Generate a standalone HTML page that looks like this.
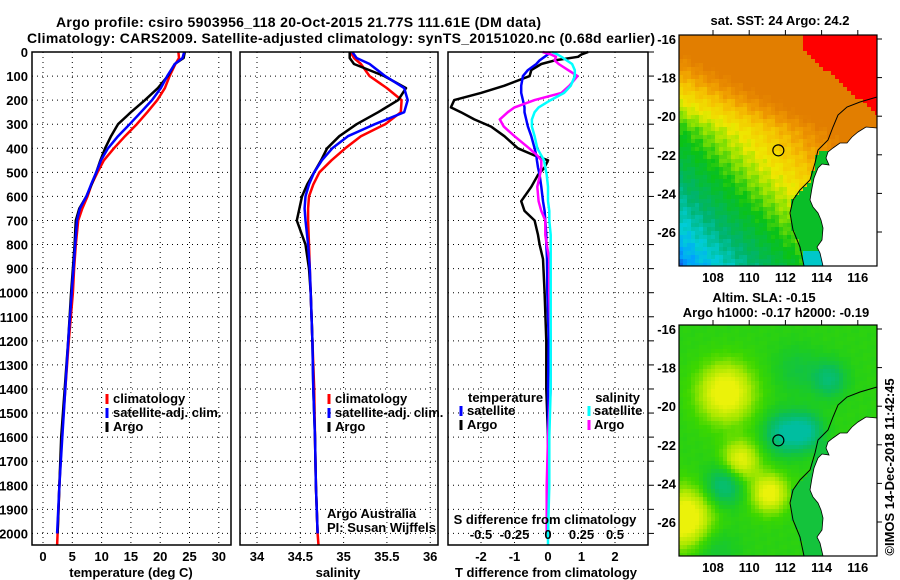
<!DOCTYPE html>
<html><head><meta charset="utf-8">
<style>
html,body{margin:0;padding:0;background:#fff;}
svg{display:block;font-family:"Liberation Sans",sans-serif;}
.b{font-weight:bold;font-size:13px;}
</style></head>
<body>
<svg id="fig" width="900" height="580" viewBox="0 0 900 580" xmlns="http://www.w3.org/2000/svg">
<text x="56" y="27" font-size="14" font-weight="bold" textLength="485">Argo profile: csiro 5903956_118 20-Oct-2015 21.77S 111.61E (DM data)</text>
<text x="27" y="43" font-size="14" font-weight="bold" textLength="628">Climatology: CARS2009. Satellite-adjusted climatology: synTS_20151020.nc (0.68d earlier)</text>
</svg>
<script>
// ---------- data ----------
const depthTS = [0,25,50,100,150,200,250,300,350,400,450,500,550,600,650,700,800,900,1000,1200,1400,1600,1800,2000,2050];
const tempClim = [23.1,23.2,22.6,21.6,20.8,19.5,17.8,16.0,14.0,12.1,10.4,9.3,8.3,7.6,6.7,6.0,5.6,5.3,5.1,4.4,3.8,3.2,2.8,2.5,2.4];
const tempSat  = [24.1,23.8,22.5,21.2,20.1,18.6,16.7,14.8,12.8,11.1,9.9,9.1,8.2,7.4,6.3,5.8,5.5,5.2,4.9,4.3,3.8,3.3,2.8,2.4];
const tempArgo = [24.2,24.0,22.5,21.3,19.6,17.4,15.0,12.8,11.6,10.6,9.8,9.1,8.3,7.4,6.2,5.6,5.4,5.1,4.8,4.3,3.7,3.1,2.8,2.5];
const salClim = [35.08,35.12,35.2,35.3,35.5,35.67,35.66,35.48,35.2,35.02,34.86,34.72,34.65,34.6,34.59,34.59,34.6,34.61,34.62,34.64,34.66,34.67,34.68,34.70,34.71];
const salSat  = [35.1,35.15,35.3,35.48,35.7,35.74,35.7,35.36,35.05,34.87,34.75,34.66,34.6,34.56,34.55,34.56,34.59,34.61,34.62,34.64,34.65,34.67,34.68,34.70];
const salArgo = [35.07,35.07,35.12,35.47,35.72,35.63,35.4,35.15,34.95,34.81,34.74,34.66,34.58,34.52,34.49,34.46,34.56,34.6,34.62,34.64,34.65,34.67,34.68,34.70];
const depthDiff = [0,10,20,35,50,75,100,140,170,200,230,250,280,310,350,400,430,450,480,510,560,620,660,700,760,800,860,1000,1200,1400,1600,1800,2000,2050];
const tDiffArgo = [1.2,1.0,0.9,0.2,-0.2,-0.5,-0.55,-1.3,-2.0,-2.8,-2.9,-2.6,-2.2,-1.7,-1.3,-0.9,-0.4,0,-0.1,-0.3,-0.5,-0.8,-0.7,-0.4,-0.3,-0.25,-0.15,-0.1,-0.05,-0.05,0,0,0];
const tDiffSat  = [0.05,0,-0.1,-0.25,-0.35,-0.6,-0.75,-0.8,-0.8,-0.75,-0.7,-0.7,-0.65,-0.6,-0.5,-0.4,-0.35,-0.33,-0.3,-0.25,-0.2,-0.15,-0.1,-0.08,-0.05,-0.05,-0.03,-0.02,0.02,0,0,0,0];
const sDiffArgo = [-0.04,0.02,0.06,0.05,0.08,0.15,0.22,0.16,0.1,-0.1,-0.25,-0.3,-0.36,-0.33,-0.25,-0.14,-0.08,-0.05,-0.05,-0.06,-0.08,-0.07,-0.05,-0.02,-0.02,-0.01,0.01,0.01,0.02,0.02,0,-0.01,-0.01];
const sDiffSat  = [0.03,0.07,0.1,0.14,0.18,0.2,0.2,0.17,0.12,0.02,-0.07,-0.1,-0.12,-0.12,-0.1,-0.08,-0.05,-0.03,-0.02,-0.01,0,0,0.01,0.01,0.02,0.02,0.02,0.02,0.02,0.02,0.01,0.01,0,0];
const depthTicks = [0,100,200,300,400,500,600,700,800,900,1000,1100,1200,1300,1400,1500,1600,1700,1800,1900,2000];
const tempTicks = [0,5,10,15,20,25,30];
const salTicks = [34,34.5,35,35.5,36];
const salTickLabels = ["34","34.5","35","35.5","36"];
const tDiffTicks = [-2,-1,0,1,2];
const sDiffTicks = [-0.5,-0.25,0,0.25,0.5];
const sDiffTickLabels = ["-0.5","-0.25","0","0.25","0.5"];
const latTicks = [-16,-18,-20,-22,-24,-26];
const lonTicks = [108,110,112,114,116];
const argoLon = 111.61, argoLat = -21.77;

// ---------- helpers ----------
const NS = "http://www.w3.org/2000/svg";
const svg = document.getElementById('fig');
function mk(tag, attrs, parent){
  const e = document.createElementNS(NS, tag);
  for (const k in attrs) e.setAttribute(k, attrs[k]);
  (parent || svg).appendChild(e);
  return e;
}
const TOP = 52, BOT = 545;
const yD = d => 52 + d * 0.2407;
const xT = v => 43 + 5.86 * v;
const xS = v => 257 + 86.6 * (v - 34);
const xTd = v => 548 + 33.5 * v;
const xSd = v => 548 + 134 * v;

function panel(name){
  const g = mk('g', {});
  
  
  return g;
}
function grid(g, left, right, xs){
  depthTicks.forEach(d => {
    const l = mk('line', {x1:left, x2:right, y1:yD(d), y2:yD(d), stroke:'#000', 'stroke-width':1, 'stroke-dasharray':'1,4'}, g);
    
    
  });
  xs.forEach(x => {
    const l = mk('line', {x1:x, x2:x, y1:TOP, y2:BOT, stroke:'#000', 'stroke-width':1, 'stroke-dasharray':'1,4'}, g);
    
    
  });
}
function frame(g, left, right){
  const r = mk('rect', {x:left, y:TOP, width:right-left, height:BOT-TOP, fill:'none', stroke:'#000', 'stroke-width':1.5}, g);
  
  
}
function line(g, depths, vals, xf, color, name){
  const pts = [];
  for (let i = 0; i < vals.length; i++) pts.push(xf(vals[i]).toFixed(1) + ',' + yD(depths[i]).toFixed(1));
  const p = mk('polyline', {points:pts.join(' '), fill:'none', stroke:color, 'stroke-width':2.5, 'stroke-linejoin':'round'}, g);
  
  
}
function txt(g, x, y, s, anchor, cls, name, extra){
  const t = mk('text', Object.assign({x:x, y:y, 'text-anchor':anchor||'start', class:cls||'b'}, extra||{}), g);
  t.textContent = s;
  
  
  return t;
}
function legMark(g, x, y, color){
  const l = mk('line', {x1:x, x2:x, y1:y-10, y2:y, stroke:color, 'stroke-width':3}, g);
  
  
}

// ---------- temperature panel ----------
const g1 = panel('temperature-panel');
grid(g1, 32, 231, tempTicks.map(xT));
line(g1, depthTS, tempClim, xT, '#ff0000', 'temperature-climatology-line');
line(g1, depthTS, tempArgo, xT, '#000000', 'temperature-argo-line');
line(g1, depthTS, tempSat, xT, '#0000ff', 'temperature-satellite-line');
frame(g1, 32, 231);
depthTicks.forEach(d => txt(g1, 28, yD(d)+5, String(d), 'end', 'b', 'depth-tick-label'));
tempTicks.forEach(v => txt(g1, xT(v), 561, String(v), 'middle', 'b', 'temperature-tick-label'));
txt(g1, 131, 577, 'temperature (deg C)', 'middle', 'b', 'temperature-axis-title');
legMark(g1, 107, 404, '#ff0000'); txt(g1, 113, 403, 'climatology', 'start', 'b', 'legend-climatology');
legMark(g1, 107, 418, '#0000ff'); txt(g1, 113, 417, 'satellite-adj. clim.', 'start', 'b', 'legend-satellite-adj');
legMark(g1, 107, 432, '#000000'); txt(g1, 113, 431, 'Argo', 'start', 'b', 'legend-argo');

// ---------- salinity panel ----------
const g2 = panel('salinity-panel');
grid(g2, 240, 438, salTicks.map(xS));
line(g2, depthTS, salClim, xS, '#ff0000', 'salinity-climatology-line');
line(g2, depthTS, salArgo, xS, '#000000', 'salinity-argo-line');
line(g2, depthTS, salSat, xS, '#0000ff', 'salinity-satellite-line');
frame(g2, 240, 438);
salTicks.forEach((v,i) => txt(g2, xS(v), 561, salTickLabels[i], 'middle', 'b', 'salinity-tick-label'));
txt(g2, 338, 577, 'salinity', 'middle', 'b', 'salinity-axis-title');
legMark(g2, 329, 404, '#ff0000'); txt(g2, 335, 403, 'climatology', 'start', 'b', 'legend-climatology');
legMark(g2, 329, 418, '#0000ff'); txt(g2, 335, 417, 'satellite-adj. clim.', 'start', 'b', 'legend-satellite-adj');
legMark(g2, 329, 432, '#000000'); txt(g2, 335, 431, 'Argo', 'start', 'b', 'legend-argo');
txt(g2, 327, 518, 'Argo Australia', 'start', '', 'credit-argo-australia', {'font-size':13});
txt(g2, 327, 532, 'PI: Susan Wijffels', 'start', '', 'credit-pi', {'font-size':13});

// ---------- difference panel ----------
const g3 = panel('difference-panel');
grid(g3, 448, 648, tDiffTicks.map(xTd));
line(g3, depthDiff, tDiffArgo, xTd, '#000000', 'temp-diff-argo-line');
line(g3, depthDiff, tDiffSat, xTd, '#0000ff', 'temp-diff-satellite-line');
line(g3, depthDiff, sDiffArgo, xSd, '#ff00ff', 'sal-diff-argo-line');
line(g3, depthDiff, sDiffSat, xSd, '#00ffff', 'sal-diff-satellite-line');
frame(g3, 448, 648);
depthTicks.forEach(d => {
  const l = mk('line', {x1:648, x2:654, y1:yD(d), y2:yD(d), stroke:'#000', 'stroke-width':1}, g3);
  
  
});
tDiffTicks.forEach(v => txt(g3, xTd(v), 561, String(v), 'middle', 'b', 't-diff-tick-label'));
sDiffTicks.forEach((v,i) => txt(g3, xSd(v), 539, sDiffTickLabels[i], 'middle', 'b', 's-diff-tick-label'));
txt(g3, 545, 524, 'S difference from climatology', 'middle', 'b', 's-diff-axis-title');
txt(g3, 546, 577, 'T difference from climatology', 'middle', 'b', 't-diff-axis-title');
txt(g3, 468, 402, 'temperature', 'start', 'b', 'legend-temperature-header');
legMark(g3, 461, 416, '#0000ff'); txt(g3, 467, 415, 'satellite', 'start', 'b', 'legend-temp-satellite');
legMark(g3, 461, 430, '#000000'); txt(g3, 467, 429, 'Argo', 'start', 'b', 'legend-temp-argo');
txt(g3, 640, 402, 'salinity', 'end', 'b', 'legend-salinity-header');
legMark(g3, 589, 416, '#00ffff'); txt(g3, 594, 415, 'satellite', 'start', 'b', 'legend-sal-satellite');
legMark(g3, 589, 430, '#ff00ff'); txt(g3, 594, 429, 'Argo', 'start', 'b', 'legend-sal-argo');

// ---------- maps ----------
const ML = 679, MR = 877, MH = 231;
const lonX = lon => 713 + (lon - 108) * 18.1;
const landPts = [[877,128],[866,127],[858,132],[852,137],[847,143],[840,143],[833,148],[828,152],[826,158],[829,165],[822,164],[818,168],[814,178],[812,188],[810,200],[813,207],[818,213],[821,220],[823,228],[822,240],[817,247],[820,253],[823,266],[877,266]];
const bathyPts = [[877,97],[860,102],[847,107],[838,115],[833,127],[828,140],[818,150],[815,163],[810,180],[800,190],[793,200],[790,213],[793,230],[800,247],[804,266]];
function bathyX(yy){
  for (let i = 1; i < bathyPts.length; i++){
    const a = bathyPts[i-1], b = bathyPts[i];
    if (yy <= b[1]) return a[0] + (b[0]-a[0]) * (yy - a[1]) / (b[1]-a[1]);
  }
  return 804;
}
function rgb(c){ return 'rgb(' + c.map(Math.round).join(',') + ')'; }
function lerpC(stops, s){
  if (s <= stops[0][0]) return rgb(stops[0][1]);
  for (let i = 1; i < stops.length; i++){
    if (s <= stops[i][0]){
      const a = stops[i-1], b = stops[i], f = (s - a[0]) / (b[0] - a[0]);
      return rgb([0,1,2].map(k => a[1][k] + f*(b[1][k]-a[1][k])));
    }
  }
  return rgb(stops[stops.length-1][1]);
}
const sstStops = [[0.04,[20,60,215]],[0.12,[0,160,255]],[0.2,[0,205,215]],[0.3,[0,180,110]],[0.44,[10,195,20]],[0.53,[150,228,0]],[0.6,[238,232,0]],[0.7,[245,195,0]],[0.78,[238,150,0]],[0.86,[226,126,0]]];
const slaStops = [[0,[0,190,160]],[0.3,[10,190,90]],[0.5,[30,205,30]],[0.62,[60,215,0]],[0.8,[170,232,0]],[1,[235,242,10]]];
const slaBlobs = [[108.6,-19.2,1.5,0.55],[109.4,-22.7,1.0,0.45],[111.0,-24.4,1.0,0.5],[106.3,-25.7,1.5,0.6],[111.8,-21.3,1.0,-0.5],[113.0,-21.2,0.9,-0.5],[114.3,-18.5,0.9,-0.35],[108.5,-24.0,1.0,-0.4],[112.5,-18.0,1.2,-0.15],[108.0,-27.3,1.2,-0.15]];

function drawMap(top, kind, name){
  const g = mk('g', {});
  
  
  const cs = 4, off = top - 35;
  for (let y = top; y < top + MH; y += cs){
    for (let x = ML; x < MR; x += cs){
      const u = (x - ML) / (MR - ML), w = (y - top) / MH;
      const n = 0.03 * Math.sin(x*0.37 + y*0.21) * Math.cos(x*0.13 - y*0.29);
      const shelf = (x + 2 > bathyX(y + 2 - off)) && (y - off > 150);
      let col;
      if (kind === 'sst'){
        if (u > 0.62 && w < 0.06 + (u - 0.62) * 0.75) col = 'rgb(255,0,0)';
        else if (shelf) col = (y - off > 250) ? 'rgb(0,200,200)' : 'rgb(10,190,40)';
        else {
          const sl = w < 0.4 ? 0.95 - 1.25*w : 0.45 - 0.6*(w - 0.4);
          col = lerpC(sstStops, sl + 0.55*u + n);
        }
      } else {
        if (shelf) col = 'rgb(20,195,60)';
        else {
          const lon = 106.12 + u * 10.93, lat = -15.8 - w * 11.95;
          let v = 0.55;
          slaBlobs.forEach(b => { v += b[3] * Math.exp(-(((lon-b[0])**2)+((lat-b[1])**2)) / (b[2]*b[2])); });
          col = lerpC(slaStops, v + n*0.5);
        }
      }
      const r = mk('rect', {x:x, y:y, width:Math.min(cs, MR-x), height:Math.min(cs, top+MH-y), fill:col}, g);
      
      
    }
  }
  const land = mk('polygon', {points: landPts.map(p => p[0] + ',' + (p[1]+off)).join(' '), fill:'#fff', stroke:'#000', 'stroke-width':0.8}, g);
  
  
  const bath = mk('polyline', {points: bathyPts.map(p => p[0] + ',' + (p[1]+off)).join(' '), fill:'none', stroke:'#000', 'stroke-width':1}, g);
  
  
  const fr = mk('rect', {x:ML, y:top, width:MR-ML, height:MH, fill:'none', stroke:'#000', 'stroke-width':1.2}, g);
  
  
  const latY = lat => top + 4 + (-16 - lat) * 19.3;
  const c = mk('circle', {cx:lonX(argoLon), cy:latY(argoLat), r:5.5, fill:'none', stroke:'#000', 'stroke-width':1.2}, g);
  
  
  latTicks.forEach(l => {
    txt(g, 676, latY(l) + 5, String(l), 'end', 'b', 'latitude-tick-label');
    const t = mk('line', {x1:MR, x2:MR+5, y1:latY(l), y2:latY(l), stroke:'#000'}, g);
    
    
  });
  lonTicks.forEach(l => {
    txt(g, lonX(l), top + MH + 16, String(l), 'middle', 'b', 'longitude-tick-label');
    const t = mk('line', {x1:lonX(l), x2:lonX(l), y1:top-5, y2:top, stroke:'#000'}, g);
    
    
  });
  return g;
}
const m1 = drawMap(35, 'sst', 'sst-map');
txt(m1, 780, 25, 'sat. SST: 24 Argo: 24.2', 'middle', 'b', 'sst-map-title');
const m2 = drawMap(325, 'sla', 'sla-map');
txt(m2, 764, 302, 'Altim. SLA: -0.15', 'middle', 'b', 'sla-map-title');
txt(m2, 776, 317, 'Argo h1000: -0.17 h2000: -0.19', 'middle', 'b', 'sla-map-subtitle');
txt(svg, 0, 0, '\u00A9IMOS 14-Dec-2018 11:42:45', 'middle', '', 'copyright-timestamp', {'font-size':13, transform:'translate(894,467) rotate(-90)'});
</script>
</body></html>
